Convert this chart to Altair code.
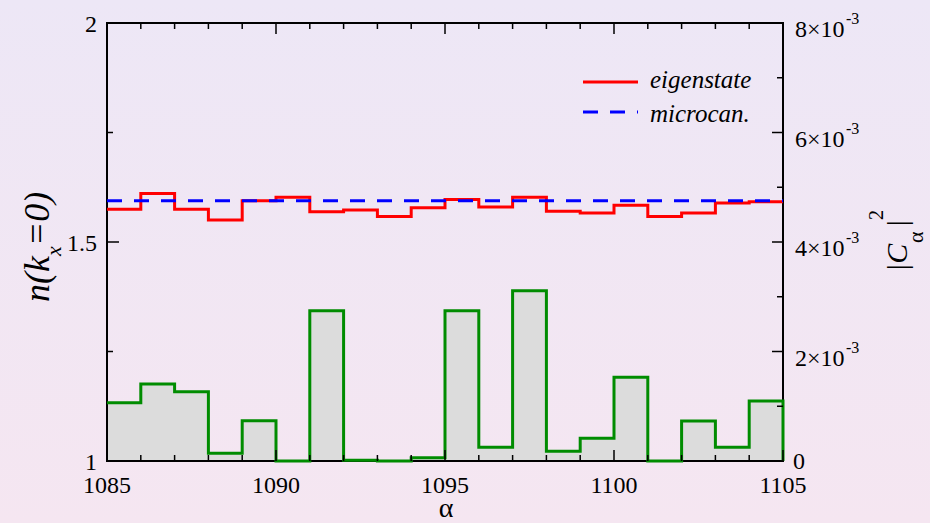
import altair as alt
import pandas as pd

# ---------------- data ----------------
alpha_edges = list(range(1085, 1106))          # 21 bin edges
n_eigen = [1.575, 1.611, 1.575, 1.550, 1.594, 1.602, 1.569, 1.573, 1.558, 1.578,
           1.597, 1.580, 1.602, 1.570, 1.566, 1.584, 1.558, 1.566, 1.589, 1.592]
c_alpha2 = [1.065, 1.406, 1.266, 0.141, 0.736, 0.0, 2.745, 0.013, 0.0, 0.06,
            2.745, 0.25, 3.11, 0.177, 0.415, 1.529, 0.0, 0.73, 0.25, 1.096]   # x 1e-3
n_micro = 1.594

x_major = [1085, 1090, 1095, 1100, 1105]
x_major_text = ["1085", "1090", "1095", "1100", "1105"]
x_minor = [v for v in range(1085, 1106) if v % 5]
left_major = [1, 1.5, 2]
left_major_text = ["1", "1.5", "2"]
left_minor = [1.25, 1.75]
right_major = [0, 2, 4, 6, 8]
right_minor = [1, 3, 5, 7]
right_label_vals = [2, 4, 6, 8]
right_label_text = ["2×10", "4×10", "6×10", "8×10"]
legend_labels = ["eigenstate", "microcan."]

# ---------------- style ----------------
W, H = 676, 438
PAD = {"left": 107, "top": 23, "right": 147, "bottom": 62}
FONT = "Liberation Serif"
RED, BLUE, GREEN, GRAY = "#ff0000", "#0000ff", "#008c00", "#dcdcdc"

xs = alt.Scale(domain=[1085, 1105], nice=False, zero=False)
ys_n = alt.Scale(domain=[1, 2], nice=False, zero=False)
ys_c = alt.Scale(domain=[0, 8], nice=False, zero=False)

ONE = pd.DataFrame({"k": [0]})

red_df = pd.DataFrame({"alpha": alpha_edges, "n": n_eigen + [n_eigen[-1]]})
green_df = pd.DataFrame({"alpha": alpha_edges + [1105],
                         "c": c_alpha2 + [c_alpha2[-1], 0.0]})
micro_df = pd.DataFrame({"a0": [alpha_edges[0]], "a1": [alpha_edges[-1]], "n": [n_micro]})


def txt(text, x, y, size, italic=False, angle=0, align="left", baseline="alphabetic"):
    kw = dict(text=text, font=FONT, fontSize=size, align=align, baseline=baseline, color="black")
    if italic:
        kw["fontStyle"] = "italic"
    if angle:
        kw["angle"] = angle
    return alt.Chart(ONE).mark_text(**kw).encode(x=alt.value(x), y=alt.value(y))


def xticks(vals, length):
    df = pd.DataFrame({"v": vals})
    bottom = alt.Chart(df).mark_rule(color="black", strokeWidth=1.5).encode(
        x=alt.X("v:Q", scale=xs, axis=None), y=alt.value(H), y2=alt.value(H - length))
    top = alt.Chart(df).mark_rule(color="black", strokeWidth=1.5).encode(
        x=alt.X("v:Q", scale=xs, axis=None), y=alt.value(0), y2=alt.value(length))
    return [bottom, top]


def yticks(vals, scale, length, right=False):
    df = pd.DataFrame({"v": vals})
    x0, x1 = (W, W - length) if right else (0, length)
    return alt.Chart(df).mark_rule(color="black", strokeWidth=1.5).encode(
        y=alt.Y("v:Q", scale=scale, axis=None), x=alt.value(x0), x2=alt.value(x1))


grad = {"gradient": "linear", "x1": 0, "x2": 0, "y1": 0, "y2": 1,
        "stops": [{"offset": 0, "color": "#ede7f6"}, {"offset": 1, "color": "#f5e6f1"}]}

bg = alt.Chart(ONE).mark_rect(fill=grad).encode(
    x=alt.value(-PAD["left"]), x2=alt.value(W + PAD["right"]),
    y=alt.value(-PAD["top"]), y2=alt.value(H + PAD["bottom"]))

area = alt.Chart(green_df).mark_area(interpolate="step-after", fill=GRAY).encode(
    x=alt.X("alpha:Q", scale=xs, axis=None),
    y=alt.Y("c:Q", scale=ys_c, axis=None),
    y2=alt.datum(0))

frame = alt.Chart(ONE).mark_rect(filled=False, stroke="black", strokeWidth=2).encode(
    x=alt.value(0), x2=alt.value(W), y=alt.value(0), y2=alt.value(H))

green_line = alt.Chart(green_df).mark_line(
    interpolate="step-after", color=GREEN, strokeWidth=3, strokeJoin="miter").encode(
    x=alt.X("alpha:Q", scale=xs, axis=None),
    y=alt.Y("c:Q", scale=ys_c, axis=None))

# right-axis tick labels
rl_df = pd.DataFrame({"v": right_label_vals, "t": right_label_text})
right_labels = alt.Chart(rl_df).mark_text(
    font=FONT, fontSize=24, align="left", baseline="alphabetic", dy=14, color="black").encode(
    y=alt.Y("v:Q", scale=ys_c, axis=None), x=alt.value(W + 12), text="t:N")
right_sup = alt.Chart(rl_df).mark_text(
    font=FONT, fontSize=16, align="left", baseline="alphabetic", dy=1, color="black",
    text="-3").encode(y=alt.Y("v:Q", scale=ys_c, axis=None), x=alt.value(W + 63))
zero_df = pd.DataFrame({"v": [right_major[0]], "t": ["0"]})
right_zero = alt.Chart(zero_df).mark_text(
    font=FONT, fontSize=24, align="left", baseline="alphabetic", dy=8, color="black").encode(
    y=alt.Y("v:Q", scale=ys_c, axis=None), x=alt.value(W + 10), text="t:N")

right_group = alt.layer(
    bg, area, frame, green_line,
    yticks(right_major, ys_c, 11, right=True), yticks(right_minor, ys_c, 6, right=True),
    right_labels, right_sup, right_zero,
    txt("|C", 800, 249, 30, italic=True, angle=270),
    txt("α", 816, 220, 22, angle=270),
    txt("|", 800, 205, 30, italic=True, angle=270),
    txt("2", 776, 197, 20, angle=270),
)

red_line = alt.Chart(red_df).mark_line(
    interpolate="step-after", color=RED, strokeWidth=3, strokeJoin="miter").encode(
    x=alt.X("alpha:Q", scale=xs, axis=None),
    y=alt.Y("n:Q", scale=ys_n, axis=None))

micro = alt.Chart(micro_df).mark_rule(color=BLUE, strokeWidth=3, strokeDash=[15, 12]).encode(
    x=alt.X("a0:Q", scale=xs, axis=None), x2="a1:Q",
    y=alt.Y("n:Q", scale=ys_n, axis=None))

# left-axis and bottom-axis tick labels
ll_df = pd.DataFrame({"v": left_major, "t": left_major_text})
left_labels = alt.Chart(ll_df).mark_text(
    font=FONT, fontSize=24, align="right", baseline="alphabetic", dy=9, color="black").encode(
    y=alt.Y("v:Q", scale=ys_n, axis=None), x=alt.value(-10), text="t:N")
bl_df = pd.DataFrame({"v": x_major, "t": x_major_text})
bottom_labels = alt.Chart(bl_df).mark_text(
    font=FONT, fontSize=24, align="center", baseline="alphabetic", color="black").encode(
    x=alt.X("v:Q", scale=xs, axis=None), y=alt.value(H + 32), text="t:N")

leg_red = alt.Chart(ONE).mark_rule(color=RED, strokeWidth=3).encode(
    x=alt.value(476), x2=alt.value(531), y=alt.value(59))
leg_blue = alt.Chart(ONE).mark_rule(color=BLUE, strokeWidth=3, strokeDash=[15, 12]).encode(
    x=alt.value(476), x2=alt.value(531), y=alt.value(89))

left_group = alt.layer(
    red_line, micro,
    yticks(left_major, ys_n, 12), yticks(left_minor, ys_n, 6),
    *xticks(x_major, 11), *xticks(x_minor, 6),
    left_labels, bottom_labels,
    leg_red, leg_blue,
    txt(legend_labels[0], 543, 65, 25, italic=True),
    txt(legend_labels[1], 543, 99, 25, italic=True),
    txt("n(k", -58, 279, 36, italic=True, angle=270),
    txt("x", -46, 233, 22, italic=True, angle=270),
    txt("=0)", -58, 223, 36, italic=True, angle=270),
    txt("α", 339, 494, 28, align="center"),
)

chart = alt.layer(right_group, left_group).resolve_scale(y="independent").properties(
    width=W, height=H, autosize=alt.AutoSizeParams(type="none"), padding=PAD
).configure_view(stroke="transparent").configure(background="#f1e6f4")

chart.save("out.html", embed_options={"renderer": "svg", "actions": False})
